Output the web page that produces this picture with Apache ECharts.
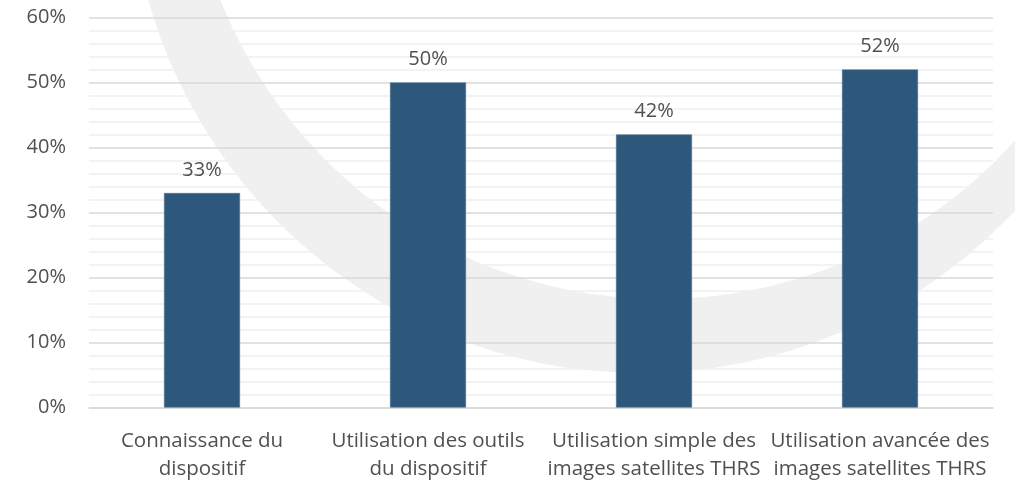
<!DOCTYPE html>
<html>
<head>
<meta charset="utf-8">
<script src="https://cdn.jsdelivr.net/npm/echarts@6/dist/echarts.min.js"></script>
<style>
html,body{margin:0;padding:0;background:#ffffff;}
#chart{width:1015px;height:481px;}
</style>
</head>
<body>
<div id="chart"></div>
<script>
const categories = [
  "Connaissance du\ndispositif",
  "Utilisation des outils\ndu dispositif",
  "Utilisation simple des\nimages satellites THRS",
  "Utilisation avancée des\nimages satellites THRS"
];
const values = [33, 50, 42, 52];
const yTickMax = 60;
const yTickStep = 10;

const chart = echarts.init(document.getElementById('chart'), null, {renderer: 'canvas'});
const textColor = '#505050';
const font = '"Open Sans", sans-serif';

chart.setOption({
  backgroundColor: '#ffffff',
  animation: false,
  graphic: [
    { type: 'circle', z: -20, silent: true,
      shape: { cx: 641, cy: -139, r: 512 },
      style: { fill: '#f0f0f0' } },
    { type: 'circle', z: -19, silent: true,
      shape: { cx: 661, cy: -175, r: 474 },
      style: { fill: '#ffffff' } }
  ],
  grid: { left: 89, right: 22, top: 17.5, bottom: 73.5, containLabel: false, outerBoundsMode: 'none' },
  xAxis: {
    type: 'category',
    data: categories,
    axisLine: { show: true, lineStyle: { color: '#d9d9d9', width: 1.5 } },
    axisTick: { show: false },
    axisLabel: {
      interval: 0,
      color: textColor,
      fontFamily: font,
      fontSize: 20.5,
      lineHeight: 28,
      margin: 20
    }
  },
  yAxis: {
    type: 'value',
    min: 0,
    max: yTickMax,
    interval: yTickStep,
    axisLine: { show: false },
    axisTick: { show: false },
    axisLabel: {
      formatter: '{value}%',
      color: textColor,
      fontFamily: font,
      fontSize: 20,
      margin: 23
    },
    splitLine: { show: true, lineStyle: { color: '#d9d9d9', width: 1.5 } },
    minorTick: { show: false, splitNumber: 5 },
    minorSplitLine: { show: true, lineStyle: { color: '#f0f0f0', width: 1.5 } }
  },
  series: [{
    type: 'bar',
    data: values,
    barWidth: 76,
    itemStyle: { color: '#2d587b', borderColor: '#4a7091', borderWidth: 0.6 },
    label: {
      show: true,
      position: 'top',
      distance: 13,
      formatter: '{c}%',
      color: textColor,
      fontFamily: font,
      fontSize: 20
    }
  }]
});
</script>
</body>
</html>
